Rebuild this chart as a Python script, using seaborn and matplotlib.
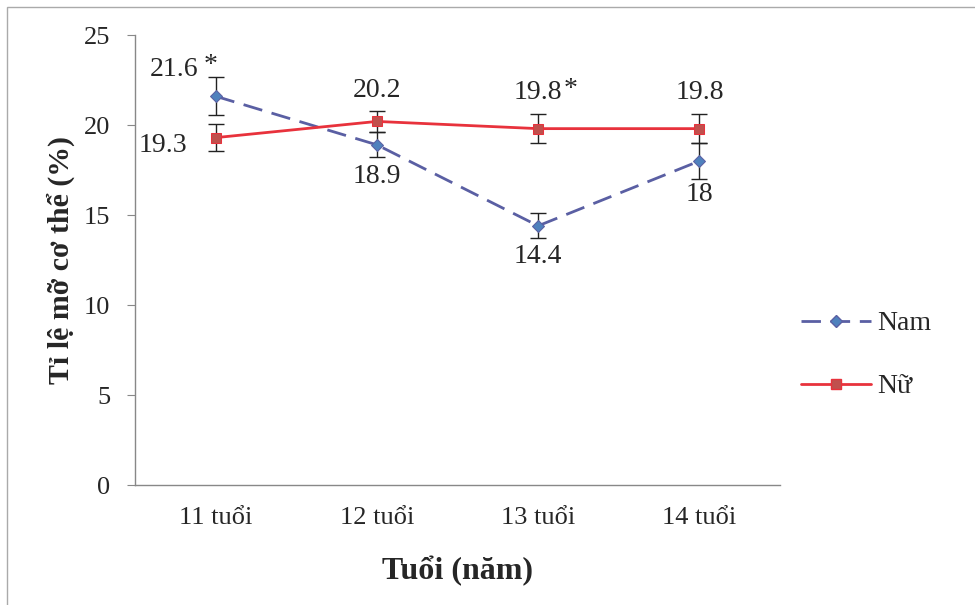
import numpy as np
import pandas as pd
import matplotlib
matplotlib.use("Agg")
import matplotlib.pyplot as plt
import seaborn as sns
from matplotlib.lines import Line2D

# ── Dữ liệu ───────────────────────────────────────────────────
ages      = ["11 tuổi", "12 tuổi", "13 tuổi", "14 tuổi"]
nam_vals  = [21.6, 18.9, 14.4, 18.0]
nu_vals   = [19.3, 20.2, 19.8, 19.8]
nam_err   = [1.05, 0.7, 0.7, 1.0]
nu_err    = [0.75, 0.6, 0.8, 0.8]
nam_text  = ["21.6", "18.9", "14.4", "18"]
nu_text   = ["19.3", "20.2", "19.8", "19.8"]
yticks    = [0, 5, 10, 15, 20, 25]

sns.set_style("white")
plt.rcParams["font.family"] = ["Liberation Serif", "DejaVu Serif"]

df = pd.DataFrame({
    "age": ages * 2,
    "val": nam_vals + nu_vals,
    "sex": ["Nam"] * 4 + ["Nữ"] * 4,
})

fig = plt.figure(figsize=(9.75, 6.05), dpi=100)
ax = fig.add_axes([0.1385, 0.1983, 0.6615, 0.7438])

nam_c, nu_c = "#5A5FA3", "#E8323C"
nam_dash = (7, 3.5)
sns.lineplot(data=df, x="age", y="val", hue="sex", style="sex",
             palette={"Nam": nam_c, "Nữ": nu_c},
             dashes={"Nam": nam_dash, "Nữ": ""},
             markers={"Nam": "D", "Nữ": "s"}, ax=ax, lw=2,
             legend=False, sort=False)
lines = ax.get_lines()
lines[0].set_markerfacecolor("#4F81BD"); lines[0].set_markeredgecolor(nam_c)
lines[0].set_markersize(6)
lines[1].set_markerfacecolor("#C0504D"); lines[1].set_markeredgecolor(nu_c)
lines[1].set_markersize(7.5)

x = np.arange(len(ages))
for vals, errs in [(nam_vals, nam_err), (nu_vals, nu_err)]:
    ax.errorbar(x, vals, yerr=errs, fmt="none", ecolor="#222222",
                elinewidth=1, capsize=6, capthick=1, zorder=1)

# ── Nhãn giá trị ─────────────────────────────────────────────
fs = 20
nam_off = [(-30, 19), (0, -23), (0, -22), (0, -24)]
nu_off  = [(-38, -6), (0, 22), (0, 26), (0, 26)]
for i in range(4):
    ax.annotate(nam_text[i], (x[i], nam_vals[i]), textcoords="offset points",
                xytext=nam_off[i], ha="center", va="center", fontsize=fs)
    ax.annotate(nu_text[i], (x[i], nu_vals[i]), textcoords="offset points",
                xytext=nu_off[i], ha="center", va="center", fontsize=fs)
ax.annotate("*", (x[0], nam_vals[0]), textcoords="offset points",
            xytext=(-4, 22), ha="center", va="center", fontsize=fs)
ax.annotate("*", (x[2], nu_vals[2]), textcoords="offset points",
            xytext=(23, 28), ha="center", va="center", fontsize=fs)

ax.set_ylim(0, 25)
ax.set_xlim(-0.5, 3.5)
ax.set_yticks(yticks)
ax.set_yticklabels([str(t) for t in yticks], fontsize=19)
ax.set_xticks(x)
ax.set_xticklabels(ages, fontsize=19)
ax.set_xticks(np.arange(-0.5, 4, 1), minor=True)
ax.tick_params(axis="x", which="major", length=0, pad=16)
ax.tick_params(axis="x", which="minor", length=6, color="#888888", direction="out")
ax.tick_params(axis="y", length=6, color="#888888", direction="out", left=True, pad=12)
for s in ["top", "right"]:
    ax.spines[s].set_visible(False)
for s in ["left", "bottom"]:
    ax.spines[s].set_color("#888888")
    ax.spines[s].set_linewidth(1)

ax.set_xlabel("Tuổi (năm)", fontsize=23, fontweight="bold", labelpad=19)
ax.set_ylabel("Tỉ lệ mỡ cơ thể (%)", fontsize=21.5, fontweight="bold", labelpad=6)

# ── Chú thích ────────────────────────────────────────────────
handles = [
    Line2D([], [], color=nam_c, lw=2, dashes=nam_dash, marker="D",
           markersize=6, markerfacecolor="#4F81BD", markeredgecolor=nam_c),
    Line2D([], [], color=nu_c, lw=2, marker="s", markersize=7.5,
           markerfacecolor="#C0504D", markeredgecolor=nu_c),
]
fig.legend(handles, ["Nam", "Nữ"], loc="center left",
           bbox_to_anchor=(0.796, 0.413), frameon=False, fontsize=20,
           handlelength=2.5, labelspacing=1.35, handletextpad=0.25)

# khung ngoài
fig.patches.append(plt.Rectangle((0.0072, -0.1), 1.1, 1.0884, transform=fig.transFigure,
                                 fill=False, edgecolor="#AAAAAA", lw=1))

fig.savefig("out.png", dpi=100)
